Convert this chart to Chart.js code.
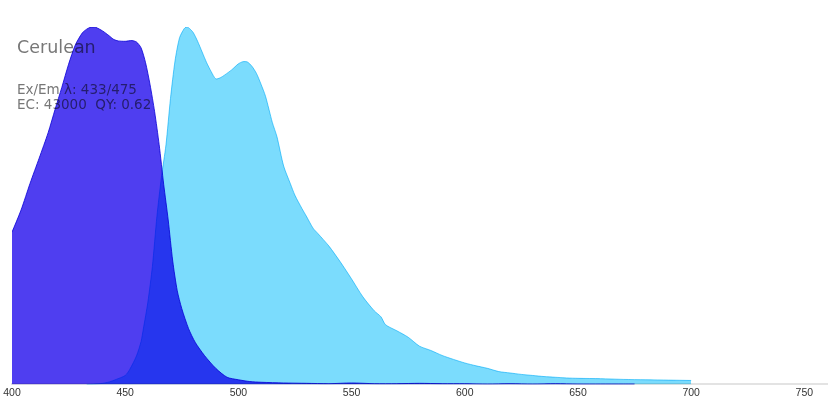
<!DOCTYPE html>
<html>
<head>
<meta charset="utf-8">
<title>Cerulean spectra</title>
<script src="https://cdn.jsdelivr.net/npm/chart.js@4/dist/chart.umd.min.js"></script>
<style>
  html, body { margin: 0; padding: 0; background: #ffffff; }
  #wrap { position: relative; width: 840px; height: 420px; }
</style>
</head>
<body>
<div id="wrap"><canvas id="spectra-chart"></canvas></div>
<script>
// Protein info shown top-left
const proteinName = 'Cerulean';
const infoLines = ['Ex/Em λ: 433/475', 'EC: 43000  QY: 0.62'];

// Excitation spectrum (normalized)
const exWavelengths = [
  400, 404, 408, 412, 416, 419, 422, 425, 428, 431, 433, 435, 437, 440, 443,
  445, 447, 450, 453, 455, 457, 459, 461, 463, 465, 467, 469, 471, 473, 475,
  478, 481, 485, 490, 495, 500, 505, 510, 520, 530, 540, 550, 560, 570, 580,
  590, 600, 610, 620, 630, 640, 650, 660, 670, 675,
];
const exValues = [
  0.426, 0.488, 0.563, 0.633, 0.705, 0.769, 0.831, 0.896, 0.95, 0.983, 0.994, 1.0, 0.999, 0.989, 0.975,
  0.965, 0.961, 0.96, 0.962, 0.958, 0.942, 0.9, 0.838, 0.763, 0.671, 0.56, 0.46, 0.345, 0.262, 0.212,
  0.156, 0.117, 0.081, 0.045, 0.02, 0.013, 0.008, 0.006, 0.004, 0.003, 0.002, 0.004, 0.002, 0.002, 0.003,
  0.002, 0.002, 0.001, 0.002, 0.001, 0.002, 0.001, 0.001, 0.001, 0.001,
];

// Emission spectrum (normalized)
const emWavelengths = [
  433, 436, 440, 443, 446, 450, 452, 455, 457, 458, 460, 462, 464, 466, 468,
  470, 472, 474, 476, 477, 478, 480, 482, 484, 486, 488, 490, 492, 494, 497,
  500, 502, 504, 506, 508, 510, 512, 515, 517, 520, 523, 525, 528, 530, 533,
  535, 540, 545, 550, 555, 560, 563, 565, 570, 575, 580, 585, 590, 595, 600,
  605, 610, 615, 620, 625, 630, 635, 640, 645, 650, 660, 670, 680, 690, 700,
];
const emValues = [
  0.0, 0.001, 0.003, 0.007, 0.014, 0.025, 0.042, 0.08, 0.12, 0.155, 0.23, 0.33, 0.47, 0.58, 0.67,
  0.8, 0.905, 0.97, 0.995, 1.0, 0.998, 0.985, 0.96, 0.93, 0.9, 0.875, 0.855, 0.858, 0.866, 0.88,
  0.897, 0.903, 0.902, 0.89, 0.87, 0.84, 0.806, 0.733, 0.694, 0.611, 0.561, 0.529, 0.493, 0.471, 0.437,
  0.423, 0.387, 0.343, 0.295, 0.245, 0.206, 0.189, 0.167, 0.15, 0.132, 0.107, 0.095, 0.081, 0.07, 0.06,
  0.052, 0.045, 0.036, 0.032, 0.028, 0.025, 0.022, 0.02, 0.018, 0.017, 0.016, 0.014, 0.013, 0.012, 0.011,
];

const xTickStart = 400;
const xTickStep = 50;

const toPoints = (xs, ys) => xs.map((x, i) => ({ x, y: ys[i] }));

// Overlapping fills are blended with multiply, like the original
const multiplyPlugin = {
  id: 'multiplyFill',
  beforeDatasetsDraw(chart) {
    chart.ctx.save();
    chart.ctx.globalCompositeOperation = 'multiply';
  },
  afterDatasetsDraw(chart) {
    chart.ctx.restore();
  },
};

// Name + info text in the upper left corner
const infoPlugin = {
  id: 'infoText',
  afterDraw(chart) {
    const ctx = chart.ctx;
    ctx.save();
    ctx.globalCompositeOperation = 'multiply';
    ctx.fillStyle = '#777777';
    ctx.textBaseline = 'alphabetic';
    ctx.font = '17.5px "DejaVu Sans"';
    ctx.fillText(proteinName, 17, 53);
    ctx.font = '13.5px "DejaVu Sans"';
    infoLines.forEach((line, i) => {
      ctx.fillText(line, 17, 94 + i * 15);
    });
    ctx.restore();
  },
};

new Chart(document.getElementById('spectra-chart'), {
  type: 'line',
  data: {
    datasets: [
      {
        label: 'Cerulean EX',
        data: toPoints(exWavelengths, exValues),
        borderColor: '#3b2fe6',
        backgroundColor: '#4f3ef0',
        borderWidth: 1,
        fill: 'origin',
        pointRadius: 0,
        tension: 0.25,
      },
      {
        label: 'Cerulean EM',
        data: toPoints(emWavelengths, emValues),
        borderColor: '#62d4fb',
        backgroundColor: '#7bdcfd',
        borderWidth: 1,
        fill: 'origin',
        pointRadius: 0,
        tension: 0.25,
      },
    ],
  },
  options: {
    responsive: true,
    maintainAspectRatio: false,
    animation: false,
    layout: {
      padding: { left: 12, right: 13, top: 27, bottom: 19 },
    },
    scales: {
      x: {
        type: 'linear',
        min: 400,
        max: 760,
        grid: { display: false, drawTicks: false },
        border: { display: true, color: '#e3e3e3', width: 2 },
        ticks: {
          stepSize: xTickStep,
          includeBounds: false,
          maxRotation: 0,
          padding: 2,
          color: '#333333',
          font: { family: 'Liberation Sans', size: 10.5 },
          callback: (value) => (value >= xTickStart && value % xTickStep === 0 ? value : ''),
        },
      },
      y: {
        display: false,
        min: 0,
        max: 1,
      },
    },
    plugins: {
      legend: { display: false },
      tooltip: { enabled: false },
    },
  },
  plugins: [multiplyPlugin, infoPlugin],
});
</script>
</body>
</html>
